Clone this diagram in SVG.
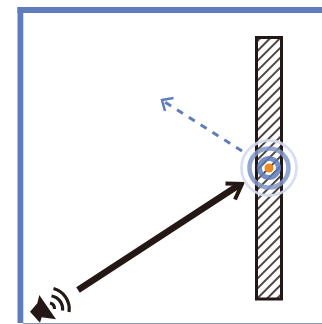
<svg xmlns="http://www.w3.org/2000/svg" width="322" height="324" viewBox="0 0 322 324">
<style>
.wall{fill:#5f7dba}
.ring{fill:none}
</style>
<defs>
<pattern id="h" width="7" height="7" patternUnits="userSpaceOnUse" patternTransform="rotate(-45)">
<rect width="7" height="7" fill="#fff"/>
<line x1="0" y1="1" x2="7" y2="1" stroke="#231815" stroke-width="1.600"/>
</pattern>
</defs>
<rect width="322" height="324" fill="#fff"/>
<g id="room">
<rect class="wall" x="17.500" y="7" width="304.500" height="6"/>
<rect class="wall" x="17.500" y="7" width="5.500" height="316"/>
<rect x="23" y="13" width="1" height="310" fill="#cfd8ec"/>
<rect x="23" y="323" width="299" height="1" fill="#8b9abb"/>
</g>
<g id="panel">
<rect x="256.500" y="37.500" width="25" height="261.500" fill="url(#h)" stroke="#231815" stroke-width="3"/>
</g>
<g id="connectors">
<path d="M78 290L239 185" fill="none" stroke="#231815" stroke-width="6.500"/>
<path d="M225.500 183.500L242 184L235 199.500" fill="none" stroke="#231815" stroke-width="4"/>
<path d="M242 151L165 102" fill="none" stroke="#5f7dba" stroke-width="3" stroke-dasharray="7 7"/>
<path d="M173.500 98L162 100L165 111" fill="none" stroke="#5f7dba" stroke-width="2.500"/>
</g>
<g id="source">
<circle class="ring" cx="269" cy="168" r="27.500" stroke="#d3dcee" stroke-width="2.800" opacity=".9"/>
<circle class="ring" cx="269" cy="168" r="19.500" stroke="#7f96c8" stroke-width="4.500" opacity=".85"/>
<circle class="ring" cx="269" cy="168" r="9.500" stroke="#5f7dba" stroke-width="5" opacity=".85"/>
<circle cx="269" cy="168" r="4.500" fill="#ee8a22"/>
</g>
<g id="speaker">
<path d="M30 311.700L37.300 303.300L39.300 295L56 319.300L41.700 317.300L40 322.700Z" fill="#231815"/>
<g fill="none" stroke="#231815" stroke-width="3.200">
<path d="M50 303A6 6 0 0 1 54.500 309"/>
<path d="M51.500 296A13 13 0 0 1 62.500 310.500"/>
<path d="M53.500 288.500A21 21 0 0 1 69 312"/>
</g>
</g>
</svg>
